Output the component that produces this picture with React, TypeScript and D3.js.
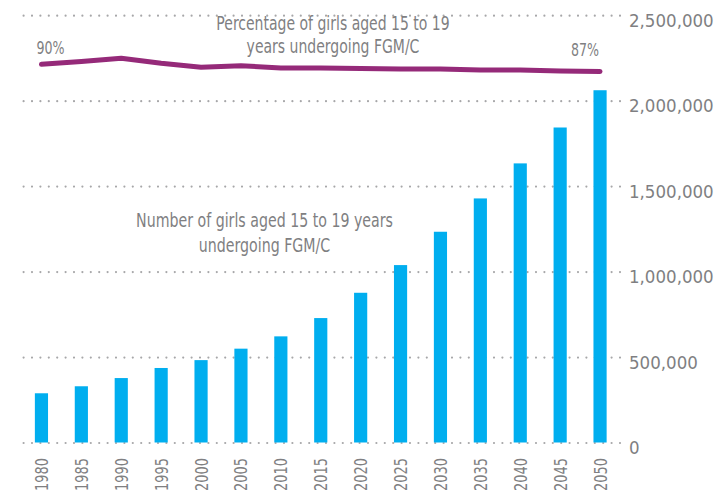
import React, {useEffect, useRef} from 'react';
import * as d3 from 'd3';

// data
const years = ['1980', '1985', '1990', '1995', '2000', '2005', '2010', '2015', '2020', '2025', '2030', '2035', '2040', '2045', '2050']
const girlsCount = [288000, 329000, 377000, 436000, 482000, 549000, 621000, 728000, 876000, 1038000, 1233000, 1428000, 1633000, 1843000, 2061000]
const girlsPct = [90, 91.2, 92.5, 90.4, 88.8, 89.4, 88.5, 88.5, 88.2, 88, 88, 87.6, 87.6, 87.2, 87]
const countTicks = [0, 500000, 1000000, 1500000, 2000000, 2500000]

const FONT = '"DejaVu Sans Condensed", "Liberation Sans Narrow", sans-serif'
const GREY = '#7f7f82'

const App = () => {

    const svgRef = useRef(null);

    const width = 718
    const height = 494

    useEffect(() => {

        const svg = d3.select(svgRef.current)
        svg.selectAll('*').remove()

        const xScale = d3.scaleBand()
            .domain(years)
            .range([21.5, 620])
            .paddingInner(0.67)
            .paddingOuter(0.335)

        const yScale = d3.scaleLinear()
            .domain([0, 2500000])
            .range([442.5, 15.2])

        // hidden percentage scale for the line
        const pctScale = d3.scaleLinear()
            .domain([80, 100])
            .range([88.3, 40.3])

        const yAxisGenerator = d3.axisRight(yScale)
            .tickValues(countTicks)
            .tickSize(-600)
            .tickPadding(9)
            .tickFormat(d3.format(','))

        const yAxis = svg.append('g')
            .attr('transform', 'translate(620,0)')
            .call(yAxisGenerator)

        yAxis.select('.domain').remove()
        yAxis.selectAll('.tick line')
            .attr('stroke', '#a7a7a9')
            .attr('stroke-width', 2.2)
            .attr('stroke-linecap', 'round')
            .attr('stroke-dasharray', '0 8.4')
        yAxis.selectAll('.tick text')
            .attr('fill', GREY)
            .attr('dy', '0.6em')
            .style('font-family', FONT)
            .style('font-size', '18.5px')

        // bars
        svg.append('g')
            .selectAll('rect')
            .data(girlsCount)
            .join('rect')
                .attr('x', (d, i) => xScale(years[i]))
                .attr('y', d => yScale(d))
                .attr('width', xScale.bandwidth())
                .attr('height', d => yScale(0) - yScale(d))
                .attr('fill', '#00aeef')

        // percentage line
        const lineGenerator = d3.line()
            .x((d, i) => xScale(years[i]) + xScale.bandwidth() / 2)
            .y(d => pctScale(d))

        svg.append('path')
            .datum(girlsPct)
            .attr('d', lineGenerator)
            .attr('fill', 'none')
            .attr('stroke', '#952a79')
            .attr('stroke-width', 5)
            .attr('stroke-linecap', 'round')
            .attr('stroke-linejoin', 'round')

        const first = years[0]
        const last = years[years.length - 1]

        // narrow text: real text squeezed sideways to look like the condensed face
        const narrowText = (x, y, anchor, sx, size, lines, lead) => {
            const t = svg.append('text')
                .attr('transform', `translate(${x},${y}) scale(${sx},1)`)
                .attr('text-anchor', anchor)
                .attr('fill', GREY)
                .style('font-family', FONT)
                .style('font-size', size + 'px')
            lines.forEach((l, i) => {
                t.append('tspan').attr('x', 0).attr('y', i * lead).text(l)
            })
        }

        narrowText(xScale(first) + xScale.bandwidth() / 2 - 5, pctScale(girlsPct[0]) - 10, 'start', 0.78, 18, ['90%'], 0)
        narrowText(xScale(last) + xScale.bandwidth() / 2 - 1, pctScale(girlsPct[girlsPct.length - 1]) - 16, 'end', 0.78, 18, ['87%'], 0)

        // series titles
        narrowText(333, 29.5, 'middle', 0.82, 19, ['Percentage of girls aged 15 to 19', 'years undergoing FGM/C'], 24)
        narrowText(264.5, 227, 'middle', 0.83, 19, ['Number of girls aged 15 to 19 years', 'undergoing FGM/C'], 25)

        // x labels, rotated
        svg.append('g')
            .selectAll('text')
            .data(years)
            .join('text')
                .attr('transform', d => `translate(${xScale(d) + xScale.bandwidth() / 2 + 6.5},458) rotate(-90) scale(0.8,1)`)
                .attr('text-anchor', 'end')
                .attr('fill', GREY)
                .style('font-family', FONT)
                .style('font-size', '18px')
                .text(d => d)

    }, [])

    return (
        <svg ref={svgRef} width={width} height={height}
            style={{position: 'absolute', left: 0, top: 0, background: '#fff'}} />
    );
}

export default App;
